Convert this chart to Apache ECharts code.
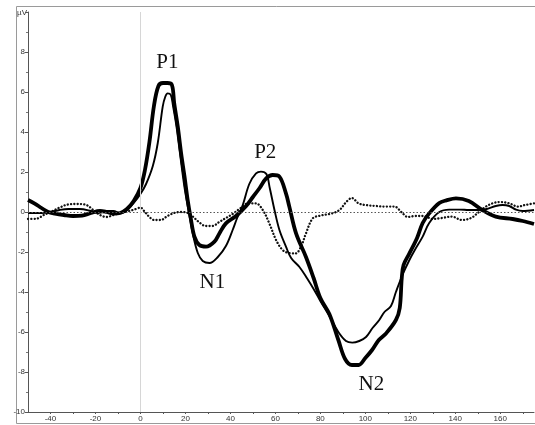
<!DOCTYPE html>
<html>
<head>
<meta charset="utf-8">
<title>ERP waveforms</title>
<script src="https://cdn.jsdelivr.net/npm/echarts@6/dist/echarts.min.js"></script>
<style>
  html, body { margin: 0; padding: 0; background: #fff; }
  #chart { width: 535px; height: 425px; }
</style>
</head>
<body>
<div id="chart"></div>
<script>
// Time axis (ms) and amplitude (µV) samples for each averaged waveform.
const heavyTimes = [-50,-47,-44,-41,-38,-34,-30,-26,-22,-18,-15,-12,-9,-6,-3,0,2,4,6,8,10,12,14,15,16.6,18.1,19.6,21,22.5,24,26.2,29.2,32.9,35.1,38,42.5,47,50,53,55.9,58.8,61.8,64.7,66.2,69.2,73.6,77,80,84,88,91,94,97,100,103,106,109.2,113.6,115.3,116.2,117,119.6,123,125.5,128.4,132.9,136,140.3,146,152,158,165.5,170,175];
const heavyValues = [0.6,0.42,0.2,0.0,-0.08,-0.15,-0.2,-0.18,-0.05,0.05,0.0,-0.08,-0.05,0.15,0.55,1.2,2.1,3.5,5.3,6.3,6.45,6.45,6.35,5.45,4.27,2.93,1.77,0.6,-0.4,-1.23,-1.65,-1.73,-1.48,-1.07,-0.57,-0.2,0.3,0.75,1.2,1.68,1.85,1.77,0.93,0.27,-1.07,-2.25,-3.3,-4.3,-5.1,-6.4,-7.35,-7.65,-7.65,-7.3,-6.9,-6.4,-6.07,-5.4,-4.8,-3.3,-2.65,-2.07,-1.3,-0.55,-0.07,0.45,0.58,0.68,0.55,0.1,-0.23,-0.35,-0.45,-0.6];

const lightTimes = [-50,-44,-40,-36,-32,-27,-22,-19,-15,-12,-9,-6,-3,0,2.5,5.5,7.7,9.9,11,12.1,13.5,14.5,16,17.5,19.5,21.5,23.5,25.5,27.7,30.7,34.4,38,41,43,45.5,48.4,51.4,53.6,56,57.5,59.6,61.8,64.7,67,70.7,74,77,80,84,88,91.4,94.2,97.3,100.3,103.2,106.2,108.5,111.4,113.6,116.5,119.6,122,125.5,128.4,132.9,137.3,142,146,150,154,158,161,164,167,170,175];
const lightValues = [-0.05,-0.05,0.0,0.1,0.15,0.15,0.05,-0.05,0.05,0.05,-0.05,0.1,0.45,0.9,1.4,2.3,3.45,5.27,5.75,5.93,5.85,5.3,4.3,3.0,1.3,0.0,-1.2,-2.05,-2.45,-2.55,-2.25,-1.7,-0.9,-0.3,0.35,1.4,1.93,2.02,1.9,1.2,0.1,-0.9,-1.73,-2.3,-2.75,-3.3,-3.85,-4.45,-5.2,-6.0,-6.45,-6.53,-6.45,-6.25,-5.8,-5.4,-5.0,-4.7,-4.0,-3.15,-2.4,-1.9,-1.23,-0.55,0.0,0.12,0.12,0.1,0.1,0.15,0.3,0.35,0.3,0.12,0.05,0.1];

const dottedTimes = [-50,-46,-43,-40,-36,-32,-28,-24,-21,-18,-15,-12,-9,-5,-2,0,2,4,6,9,12,15,18,21,23,26,29,32,35,38,41,44,48,51.4,54.4,57.3,60.3,63.2,66,69,71.4,73.6,76.6,80,84,87,89,91.5,94,97,100,105,109,113,116,119,122,126,130,134,138.5,143,147,150,153.6,157,160,164,168,171,175];
const dottedValues = [-0.35,-0.33,-0.15,0.0,0.22,0.38,0.4,0.35,0.1,-0.15,-0.25,-0.15,-0.05,0.05,0.15,0.22,0.0,-0.25,-0.4,-0.4,-0.2,-0.05,0.0,-0.05,-0.2,-0.5,-0.7,-0.7,-0.5,-0.3,-0.1,0.15,0.43,0.43,0.1,-0.57,-1.4,-1.9,-2.05,-2.07,-1.73,-1.07,-0.32,-0.18,-0.1,0.0,0.15,0.5,0.7,0.43,0.35,0.3,0.27,0.27,0.0,-0.25,-0.2,-0.2,-0.35,-0.3,-0.23,-0.4,-0.3,-0.05,0.27,0.45,0.5,0.43,0.27,0.35,0.43];

// Component names and the spots (ms, µV) where each name is printed.
const componentNames = ['P1', 'N1', 'P2', 'N2'];
const componentAnchors = [[12, 7.5], [32, -3.5], [55.5, 3.0], [102.7, -8.6]];

const pairs = (ts, vs) => ts.map((t, i) => [t, vs[i]]);

const chart = echarts.init(document.getElementById('chart'), null, { renderer: 'canvas' });

const tickFont = { fontFamily: 'Liberation Sans, Arial, sans-serif', fontSize: 8, color: '#333' };

chart.setOption({
  animation: false,
  backgroundColor: '#fff',
  graphic: [{
    type: 'rect',
    left: 14, top: 4,
    shape: { width: 540, height: 417 },
    style: { fill: 'none', stroke: '#9a9a9a', lineWidth: 1 },
    silent: true, z: -1
  }],
  grid: { left: 28, right: 1, top: 12, bottom: 13, outerBoundsMode: 'none', containLabel: false },
  xAxis: {
    type: 'value',
    min: -50, max: 175, interval: 10,
    name: 'ms', nameLocation: 'end', nameGap: 1,
    nameTextStyle: Object.assign({}, tickFont, { verticalAlign: 'top', padding: [2, 0, 0, 0] }),
    axisLine: { show: true, onZero: false, lineStyle: { color: '#555', width: 1 } },
    axisTick: { show: true, length: 2, lineStyle: { color: '#555' } },
    axisLabel: Object.assign({}, tickFont, {
      margin: 3,
      showMinLabel: false, showMaxLabel: false,
      formatter: v => (v % 20 === 0 ? String(v) : '')
    }),
    splitLine: { show: false }
  },
  yAxis: {
    type: 'value',
    min: -10, max: 10, interval: 2,
    name: 'µV', nameLocation: 'end', nameGap: -5,
    nameTextStyle: Object.assign({}, tickFont, { align: 'right', padding: [0, 1, 0, 0] }),
    axisLine: { show: true, onZero: false, lineStyle: { color: '#555', width: 1 } },
    axisTick: { show: true, length: 3, lineStyle: { color: '#555' } },
    minorTick: { show: true, splitNumber: 2, length: 2, lineStyle: { color: '#777' } },
    axisLabel: Object.assign({}, tickFont, {
      margin: 3,
      formatter: v => (v === 10 ? '' : String(v))
    }),
    splitLine: { show: false }
  },
  series: [
    {
      name: 'dotted',
      type: 'line',
      data: pairs(dottedTimes, dottedValues),
      smooth: 0.35,
      showSymbol: false,
      lineStyle: { color: '#111', width: 2.3, type: [0.1, 3.2], cap: 'round' },
      z: 2,
      markLine: {
        silent: true,
        symbol: 'none',
        label: { show: false },
        data: [
          { yAxis: 0, lineStyle: { color: '#555', width: 1, type: [1.5, 2] } },
          { xAxis: 0, lineStyle: { color: '#d6d6d6', width: 1, type: 'solid' } }
        ]
      }
    },
    {
      name: 'light',
      type: 'line',
      data: pairs(lightTimes, lightValues),
      smooth: 0.35,
      showSymbol: false,
      lineStyle: { color: '#000', width: 1.9 },
      z: 3
    },
    {
      name: 'heavy',
      type: 'line',
      data: pairs(heavyTimes, heavyValues),
      smooth: 0.35,
      showSymbol: false,
      lineStyle: { color: '#000', width: 3.8 },
      z: 4,
      markPoint: {
        symbol: 'circle',
        symbolSize: 0,
        silent: true,
        label: {
          show: true,
          position: 'inside',
          formatter: p => p.name,
          fontFamily: 'Liberation Serif, Times New Roman, serif',
          fontSize: 21,
          color: '#111'
        },
        data: componentNames.map((n, i) => ({ name: n, coord: componentAnchors[i] }))
      }
    }
  ]
});
</script>
</body>
</html>
